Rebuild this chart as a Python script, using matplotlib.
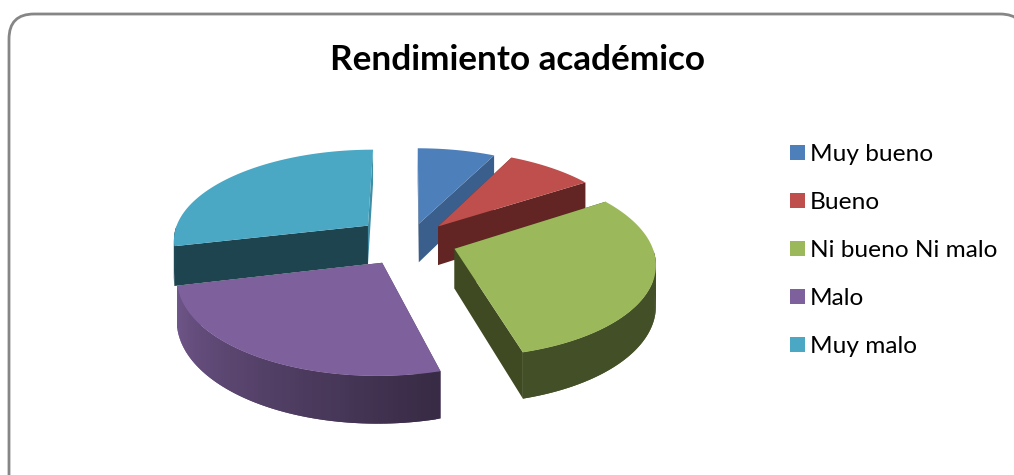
import numpy as np
import matplotlib
matplotlib.use("Agg")
import matplotlib.pyplot as plt
from matplotlib.patches import FancyBboxPatch, Patch, Polygon

plt.rcParams['font.family'] = ['Lato', 'DejaVu Sans']

labels = ['Muy bueno', 'Bueno', 'Ni bueno Ni malo', 'Malo', 'Muy malo']
values = [7.4, 8.4, 29.9, 25.6, 28.7]
explode = [0.2, 0.22, 0.24, 0.27, 0.28]
colors = ['#4d7fbb', '#be4f4c', '#9bb95a', '#7e619c', '#4aa8c4']
start_face = ['#2b4669', '#622523', '#3f4a22', '#4a3860', '#1e4450']
end_face = ['#3a5f8c', '#622523', '#3f4a22', '#4a3860', '#3f8ea5']
# drawn back to front
draw_order = [0, 1, 4, 2, 3]

# projection of the pie, in pixels
cx, cy = 410, 241
rx, ry = 196, 90.6
depth = 39.5
persp = 0.14


def project(x, y, z=0):
    w = 1 / (1 - persp * y)
    return cx + rx * x * w, cy + (ry * y - depth * z) * w


def rim(a, ox, oy, z=0):
    return project(ox + np.sin(a), oy - np.cos(a), z)


fig = plt.figure(figsize=(10.14, 4.75), dpi=100)
ax = fig.add_axes([0, 0, 1, 1])
ax.set_xlim(0, 1014)
ax.set_ylim(475, 0)
ax.axis('off')

ax.add_patch(FancyBboxPatch((34, 39), 966, 476, boxstyle='round,pad=25,rounding_size=25',
                            fc='white', ec='#868686', lw=2, clip_on=True))

edges = np.radians(np.cumsum([0] + values) / sum(values) * 360)

for i in draw_order:
    a0, a1 = edges[i], edges[i + 1]
    mid = (a0 + a1) / 2
    ox, oy = explode[i] * np.sin(mid), -explode[i] * np.cos(mid)
    aa = np.linspace(a0, a1, 80)

    # the two flat cut faces
    for a, col in ((a0, start_face[i]), (a1, end_face[i])):
        pts = [project(ox, oy), rim(a, ox, oy), rim(a, ox, oy, -1), project(ox, oy, -1)]
        ax.add_patch(Polygon(pts, fc=col, ec='none'))

    # outer wall, only the part facing the viewer. strips overlap so no seams show
    base = np.array(matplotlib.colors.to_rgb(colors[i]))
    front = aa[(aa > np.pi / 2) & (aa < 3 * np.pi / 2)]
    for j in range(len(front) - 1):
        t = (front[j] - a0) / (a1 - a0)
        shade = 0.44 + 0.46 * t if i == 3 else 0.43
        c = base * shade
        a, b = front[j], front[min(j + 2, len(front) - 1)]
        pts = [rim(a, ox, oy), rim(b, ox, oy), rim(b, ox, oy, -1), rim(a, ox, oy, -1)]
        ax.add_patch(Polygon(pts, fc=c, ec='none'))

    # top surface
    pts = [project(ox, oy)] + [rim(a, ox, oy) for a in aa]
    ax.add_patch(Polygon(pts, fc=colors[i], ec='none'))

ax.text(517, 60, 'Rendimiento académico', ha='center', va='center',
        fontsize=25.3, fontweight='bold', color='black')

handles = [Patch(fc=c, ec='none') for c in colors]
ax.legend(handles, labels, loc='upper left', bbox_to_anchor=(783 / 1014, 1 - 137 / 475),
          frameon=False, fontsize=17.6, labelspacing=1.10, handlelength=0.6, handleheight=0.6,
          handletextpad=0.21, borderpad=0, borderaxespad=0.3, labelcolor='black')

fig.savefig('out.png', dpi=100)
